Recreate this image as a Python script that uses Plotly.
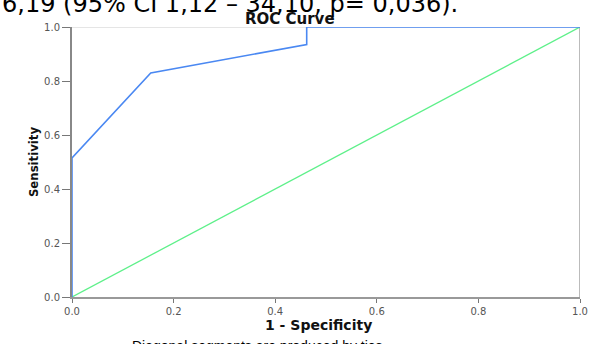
import plotly.graph_objects as go

# ROC curve data (1 - specificity, sensitivity)
fpr = [0.0, 0.0, 0.155, 0.462, 0.462, 1.0]
tpr = [0.0, 0.515, 0.83, 0.935, 1.0, 1.0]
ref_x = [0.0, 1.0]
ref_y = [0.0, 1.0]
tick_vals = [0.0, 0.2, 0.4, 0.6, 0.8, 1.0]
tick_text = ["0.0", "0.2", "0.4", "0.6", "0.8", "1.0"]

fig = go.Figure()
fig.add_trace(go.Scatter(x=ref_x, y=ref_y, mode="lines",
                         line=dict(color="#5ef08a", width=1.3), showlegend=False))
fig.add_trace(go.Scatter(x=fpr, y=tpr, mode="lines",
                         line=dict(color="#4a88f2", width=1.6), showlegend=False))

axis_common = dict(range=[0, 1], tickvals=tick_vals, ticktext=tick_text,
                   ticks="outside", tickcolor="#777", tickwidth=1,
                   showgrid=False, zeroline=False, automargin=False, layer="below traces",
                   tickfont=dict(family="Verdana, DejaVu Sans", size=10, color="#555"))

fig.update_xaxes(**axis_common, ticklen=4, showline=True, linecolor="#999", linewidth=1.5)
fig.update_yaxes(**axis_common, ticklen=8, showline=True, linecolor="#888", linewidth=2,
                 title=dict(text="<b>Sensitivity</b>", standoff=3,
                            font=dict(family="Liberation Sans Narrow, Arial Narrow, DejaVu Sans Condensed", size=13, color="#111")))

# frame top/right
fig.add_shape(type="line", xref="x", yref="y", x0=0, x1=1, y0=1, y1=1,
              line=dict(color="#cccccc", width=1), layer="below")
fig.add_shape(type="line", xref="x", yref="y", x0=1, x1=1, y0=0, y1=1,
              line=dict(color="#bbbbbb", width=2), layer="below")

fig.add_annotation(text="<b>ROC Curve</b>", xref="paper", yref="paper",
                   x=0.43, y=1.0, yanchor="bottom", yshift=-3, showarrow=False,
                   font=dict(family="Verdana, DejaVu Sans", size=15, color="#111"))

fig.add_annotation(text="<b>1 - Specificity</b>", xref="paper", yref="paper",
                   x=0.486, y=0, yanchor="middle", yshift=-28, showarrow=False,
                   font=dict(family="Verdana, DejaVu Sans", size=14, color="#111"))

# clipped surrounding document text
fig.add_annotation(text="6,19 (95% CI 1,12 – 34,10, p= 0,036).", xref="paper", yref="paper",
                   x=-0.142, xanchor="left", y=1.0, yanchor="bottom", yshift=7,
                   showarrow=False,
                   font=dict(family="DejaVu Sans", size=24, color="#000"))
fig.add_annotation(text="Diagonal segments are produced by ties.", xref="paper", yref="paper",
                   x=0.115, xanchor="left", y=0, yanchor="top", yshift=-39,
                   showarrow=False,
                   font=dict(family="Liberation Sans, Arial", size=14, color="#000"))

fig.update_layout(width=593, height=344,
                  margin=dict(l=72, r=13, t=27, b=47),
                  paper_bgcolor="white", plot_bgcolor="white")

fig.write_html("out.html", config={"displayModeBar": False},
               post_script="document.body.style.margin='0';")
